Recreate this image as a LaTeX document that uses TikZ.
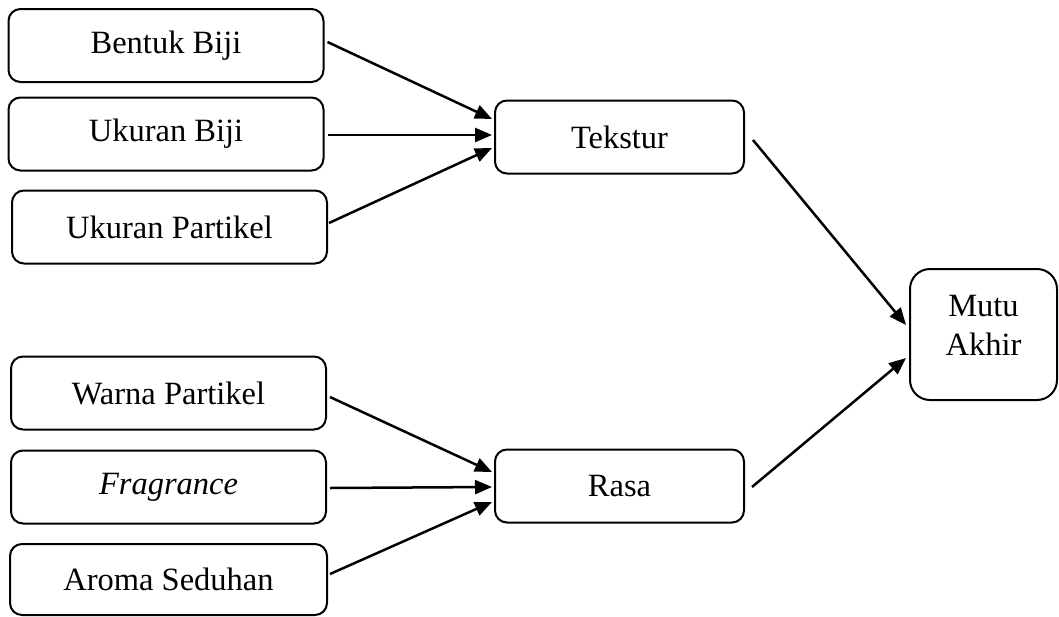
\documentclass[tikz,border=0pt]{standalone}
\usepackage{fontspec}
\setmainfont{Liberation Serif}
\usetikzlibrary{arrows.meta}
\begin{document}
\begin{tikzpicture}[x=1pt,y=-1pt,
  box/.style={draw, line width=2pt, rounded corners=12pt, minimum width=315pt, minimum height=73pt, inner sep=0pt, font=\fontsize{32.5}{38.4}\selectfont},
  midbox/.style={box, minimum width=249pt},
  conn/.style={line width=2.5pt, -{Triangle[length=17pt,width=14pt]}}]
\useasboundingbox (0,0) rectangle (1059,616);
\node[box] (bentuk) at (166,45.5) {Bentuk Biji};
\node[box] (ubiji) at (166,134) {Ukuran Biji};
\node[box] (upart) at (169.5,227) {Ukuran Partikel};
\node[box] (warna) at (168.5,393) {Warna Partikel};
\node[box] (frag) at (168.5,487) {\itshape Fragrance};
\node[box, minimum width=317pt, minimum height=71pt] (aroma) at (168.5,579.5) {Aroma Seduhan};
\node[midbox] (tekstur) at (619.5,137) {Tekstur};
\node[midbox] (rasa) at (619.5,486) {Rasa};
\node[box, rounded corners=20pt, minimum width=147pt, minimum height=131pt, align=center] (mutu) at (983.5,334.5) {Mutu\\Akhir\\[-20pt]\mbox{}};
\draw[conn] ([shift={(3,-3.5)}]bentuk.east) -- ([shift={(-2,-18)}]tekstur.west);
\draw[conn] ([shift={(3,1)}]ubiji.east) -- ([shift={(-2,-2)}]tekstur.west);
\draw[conn] ([shift={(1,-4)}]upart.east) -- ([shift={(-2,11)}]tekstur.west);
\draw[conn] ([shift={(3,4)}]warna.east) -- ([shift={(-2,-14)}]rasa.west);
\draw[conn] ([shift={(3,1)}]frag.east) -- ([shift={(-2,1)}]rasa.west);
\draw[conn] ([shift={(2,-5.5)}]aroma.east) -- ([shift={(-2,16)}]rasa.west);
\draw[conn] ([shift={(8,3)}]tekstur.east) -- ([shift={(-3,-9.5)}]mutu.west);
\draw[conn] ([shift={(7,1)}]rasa.east) -- ([shift={(-3,23.5)}]mutu.west);
\end{tikzpicture}
\end{document}
